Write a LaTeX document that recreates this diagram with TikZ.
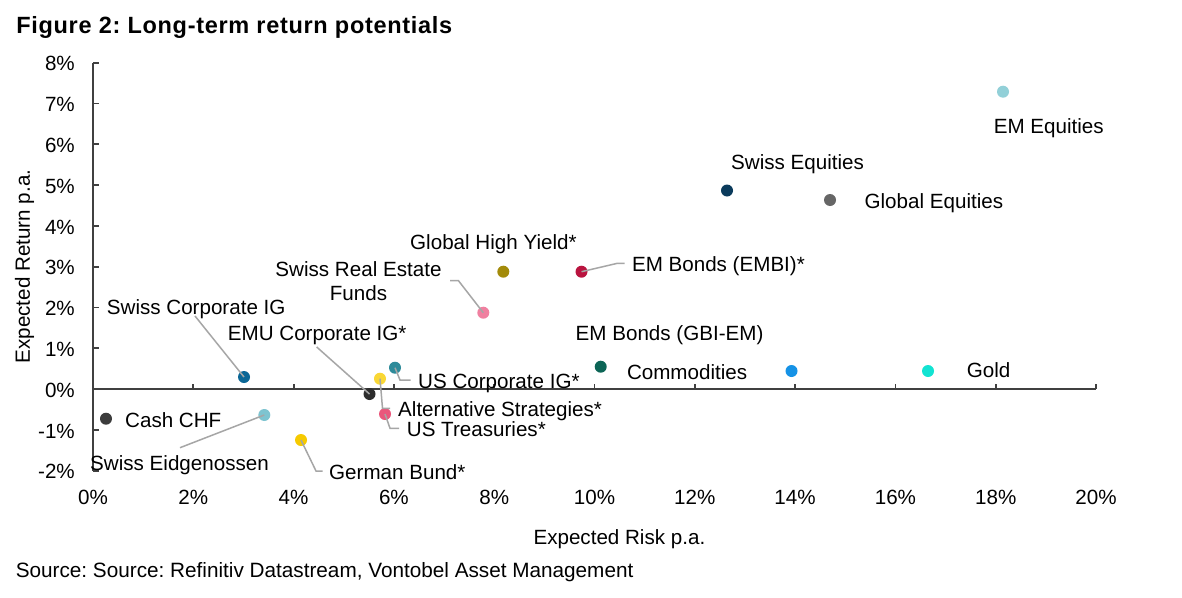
\documentclass[tikz,border=0pt]{standalone}
\usepackage{fontspec}
\setmainfont{Liberation Sans}
\newfontfamily\titlefont[LetterSpace=2.9]{Liberation Sans}
\frenchspacing
\definecolor{axisgray}{HTML}{404040}
\definecolor{leadergray}{HTML}{A6A6A6}
\definecolor{cEMEq}{HTML}{92D0D8}
\definecolor{cSwEq}{HTML}{0B3B5C}
\definecolor{cGlEq}{HTML}{666666}
\definecolor{cEMBI}{HTML}{B9143F}
\definecolor{cGHY}{HTML}{A38B0A}
\definecolor{cSRE}{HTML}{F080A0}
\definecolor{cSCIG}{HTML}{0B6796}
\definecolor{cEMU}{HTML}{2D2D2D}
\definecolor{cUSC}{HTML}{2E8B9A}
\definecolor{cAlt}{HTML}{F9D735}
\definecolor{cUST}{HTML}{EA577C}
\definecolor{cBund}{HTML}{F6CA00}
\definecolor{cEidg}{HTML}{7EC4D0}
\definecolor{cCash}{HTML}{3C3C3C}
\definecolor{cGBI}{HTML}{0C6556}
\definecolor{cComm}{HTML}{1592E6}
\definecolor{cGold}{HTML}{12E3D2}
\begin{document}
\frenchspacing
\begin{tikzpicture}[x=1pt,y=-1pt,
  lab/.style={inner sep=0pt, text height=14.75pt, text depth=0pt, font=\fontsize{20.6}{24}\selectfont},
  dot/.style={circle, inner sep=0pt, minimum size=12pt, fill=#1},
  leader/.style={draw=leadergray, line width=1.5pt},
  axisline/.style={draw=axisgray, line width=1.8pt}]
\fill[white] (0,0) rectangle (1182,597);
\useasboundingbox (0,0) rectangle (1182,597);

% title and source
\node[inner sep=0pt, text height=16.8pt, text depth=0pt, anchor=west, font=\titlefont\bfseries\fontsize{23.5}{27}\selectfont] (title) at (16.2,25.3) {Figure 2: Long-term return potentials};
\node[lab, anchor=west, font=\fontsize{20.73}{24}\selectfont] (source) at (15.6,570.5) {Source: Source: Refinitiv Datastream, Vontobel Asset Management};

% axes
\draw[axisline] (93,62.6) -- (93,470.6);
\draw[axisline] (93,389) -- (1096,389);
\foreach \k in {-2,...,8} {
  \draw[axisline] (93,{389-40.8*\k}) -- (98.5,{389-40.8*\k});
  \node[lab, anchor=east] at (75,{389-40.8*\k+1}) {\k\%};
}
\foreach \k in {0,2,...,20} {
  \draw[axisline] ({93+50.15*\k},389) -- ({93+50.15*\k},383.5);
  \node[lab] at ({93+50.15*\k},497) {\k\%};
}
\node[lab] (xtitle) at (619.4,537.5) {Expected Risk p.a.};
\node[lab, rotate=90] (ytitle) at (22.5,266.5) {Expected Return p.a.};

% data points
\node[dot=cEMEq] (d1) at (1003,91.7) {};
\node[dot=cSwEq] (d2) at (727,190.5) {};
\node[dot=cGlEq] (d3) at (830,200) {};
\node[dot=cEMBI] (d4) at (581.5,271.7) {};
\node[dot=cGHY] (d5) at (503.3,271.7) {};
\node[dot=cSRE] (d6) at (483.3,312.7) {};
\node[dot=cSCIG] (d7) at (244,377) {};
\node[dot=cEMU] (d8) at (369.5,394) {};
\node[dot=cUSC] (d9) at (395,367.7) {};
\node[dot=cAlt] (d10) at (380,378.7) {};
\node[dot=cUST] (d11) at (385,414) {};
\node[dot=cBund] (d12) at (301,440) {};
\node[dot=cEidg] (d13) at (264.3,415) {};
\node[dot=cCash] (d14) at (106,418.7) {};
\node[dot=cGBI] (d15) at (600.7,366.7) {};
\node[dot=cComm] (d16) at (791.5,371) {};
\node[dot=cGold] (d17) at (928,371) {};

% labels
\node[lab, anchor=west] (l1) at (993.6,126) {EM Equities};
\node[lab, anchor=west] (l2) at (731,161.7) {Swiss Equities};
\node[lab, anchor=west] (l3) at (864.4,200.7) {Global Equities};
\node[lab, anchor=west] (l4) at (631.8,264.3) {EM Bonds (EMBI)*};
\node[lab, anchor=west] (l5) at (410,242.3) {Global High Yield*};
\node[inner sep=0pt, align=center, anchor=east, font=\fontsize{20.6}{24}\selectfont] (l6) at (441.7,281.2) {Swiss Real Estate\\Funds};
\node[lab, anchor=west] (l7) at (106.7,307.5) {Swiss Corporate IG};
\node[lab, anchor=west] (l8) at (227.7,333) {EMU Corporate IG*};
\node[lab, anchor=west] (l9) at (418,381) {US Corporate IG*};
\node[lab, anchor=west] (l10) at (398,409) {Alternative Strategies*};
\node[lab, anchor=west] (l11) at (406.7,429.3) {US Treasuries*};
\node[lab, anchor=west] (l12) at (329,472) {German Bund*};
\node[lab, anchor=west] (l13) at (90,463.3) {Swiss Eidgenossen};
\node[lab, anchor=west] (l14) at (125,420) {Cash CHF};
\node[lab, anchor=west] (l15) at (575.5,333.5) {EM Bonds (GBI-EM)};
\node[lab, anchor=west] (l16) at (626.8,371.7) {Commodities};
\node[lab, anchor=west] (l17) at (966.7,370) {Gold};

% leader lines
\coordinate (b4) at (617.4,263.3);  \coordinate (e4) at (624.6,263.3);
\coordinate (b6) at (458.3,280.5);  \coordinate (e6) at (450,280.5);
\coordinate (e7) at (195,316);
\coordinate (e8) at (316.7,347);
\coordinate (b9) at (400,380);      \coordinate (e9) at (410.7,380);
\coordinate (b10) at (382.5,408.3); \coordinate (e10) at (390,408.3);
\coordinate (b11) at (390,428.3);   \coordinate (e11) at (399,428.3);
\coordinate (b12) at (316,471);     \coordinate (e12) at (322.5,471);
\coordinate (e13) at (180,447.7);
\draw[leader] (d4.center) -- (b4) -- (e4);
\draw[leader] (d6.center) -- (b6) -- (e6);
\draw[leader] (e7) -- (d7.center);
\draw[leader] (e8) -- (d8.center);
\draw[leader] (d9.center) -- (b9) -- (e9);
\draw[leader] (d10.center) -- (b10) -- (e10);
\draw[leader] (d11.center) -- (b11) -- (e11);
\draw[leader] (d12.center) -- (b12) -- (e12);
\draw[leader] (d13.center) -- (e13);
\end{tikzpicture}
\end{document}
